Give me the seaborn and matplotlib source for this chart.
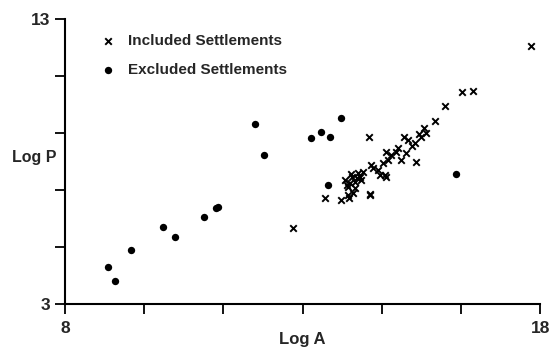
import numpy as np
import pandas as pd
import matplotlib
matplotlib.use("Agg")
import matplotlib.pyplot as plt
import seaborn as sns

# Included settlements (x markers)
inc_log_a = [17.80, 16.35, 16.59, 15.99, 15.78, 12.81, 13.47, 13.81, 13.98, 14.43,
             14.40, 15.55, 15.59, 15.50, 15.39, 15.13, 15.22, 15.36, 15.01, 14.97,
             14.87, 14.76, 15.08, 15.18, 14.80, 14.69, 14.45, 14.49, 14.59, 14.73,
             14.63, 14.76, 14.42, 14.28, 14.17, 14.21, 14.24, 14.14, 14.10, 13.89,
             13.93, 14.00, 14.10, 14.07, 13.96, 14.05, 13.95, 14.02, 15.30, 15.45]
inc_log_p = [12.05, 10.44, 10.46, 9.95, 9.41, 5.66, 6.71, 6.64, 6.71, 6.85,
             8.87, 9.16, 9.01, 8.87, 7.99, 8.87, 8.75, 8.64, 8.46, 8.34,
             8.23, 8.34, 8.05, 8.29, 8.05, 7.94, 7.88, 7.76, 7.70, 7.53,
             7.53, 7.47, 6.82, 7.64, 7.59, 7.47, 7.35, 7.41, 7.29, 7.35,
             7.18, 7.24, 7.06, 6.88, 6.82, 7.45, 7.12, 7.55, 8.55, 8.95]

# Excluded settlements (dots)
exc_log_a = [8.90, 9.05, 9.40, 10.06, 10.32, 10.93, 11.17, 11.23, 11.99, 12.18,
             13.17, 13.39, 13.58, 13.81, 13.53, 16.22]
exc_log_p = [4.31, 3.81, 4.89, 5.70, 5.34, 6.04, 6.36, 6.41, 9.32, 8.23,
             8.84, 9.02, 8.87, 9.52, 7.19, 7.57]

series_labels = ["Included Settlements", "Excluded Settlements"]
x_label = "Log A"
y_label = "Log P"

inc = pd.DataFrame({"a": inc_log_a, "p": inc_log_p})
exc = pd.DataFrame({"a": exc_log_a, "p": exc_log_p})

sns.set_style("white")
plt.rcParams["font.family"] = ["Liberation Sans", "DejaVu Sans"]

fig = plt.figure(figsize=(5.5, 3.49), dpi=100)
ax = fig.add_axes([0.118, 0.129, 0.864, 0.8166])

sns.scatterplot(data=inc, x="a", y="p", marker="x", color="black", s=22,
                linewidth=1.4, ax=ax, label=series_labels[0])
sns.scatterplot(data=exc, x="a", y="p", marker="o", color="black", s=28,
                edgecolor="black", linewidth=0, ax=ax, label=series_labels[1])

ax.set_xlim(8, 18)
ax.set_ylim(3, 13)
for s in ["top", "right"]:
    ax.spines[s].set_visible(False)
for s in ["left", "bottom"]:
    ax.spines[s].set_color("black")
    ax.spines[s].set_linewidth(1.5)

xt = np.linspace(8, 18, 7)
yt = np.arange(3, 14, 2)
ax.set_xticks(xt)
ax.set_xticklabels(["8", "", "", "", "", "", "18"], fontsize=12.5, fontweight="bold")
ax.set_yticks(yt)
ax.set_yticklabels(["3", "", "", "", "", "13"], fontsize=12.5, fontweight="bold")
ax.tick_params(axis="both", direction="out", length=7, width=1.3, color="black",
               left=True, bottom=True)
ax.tick_params(axis="x", pad=5.5)
ax.tick_params(axis="y", pad=3.5)

ax.set_xlabel(x_label, fontsize=12, fontweight="bold")
ax.set_ylabel(y_label, fontsize=11.5, fontweight="bold", rotation=0,
              ha="right", va="center")
ax.yaxis.set_label_coords(-0.018, 0.514)
ax.xaxis.set_label_coords(0.5, -0.098)

leg = ax.legend(loc="upper left", bbox_to_anchor=(100.4 / 550, 1 - 34.0 / 349),
                bbox_transform=fig.transFigure, frameon=False,
                prop={"size": 11, "weight": "bold"}, handletextpad=0.8,
                labelspacing=0.96, handlelength=1.0, borderaxespad=0, borderpad=0)

fig.savefig("out.png", dpi=100)
